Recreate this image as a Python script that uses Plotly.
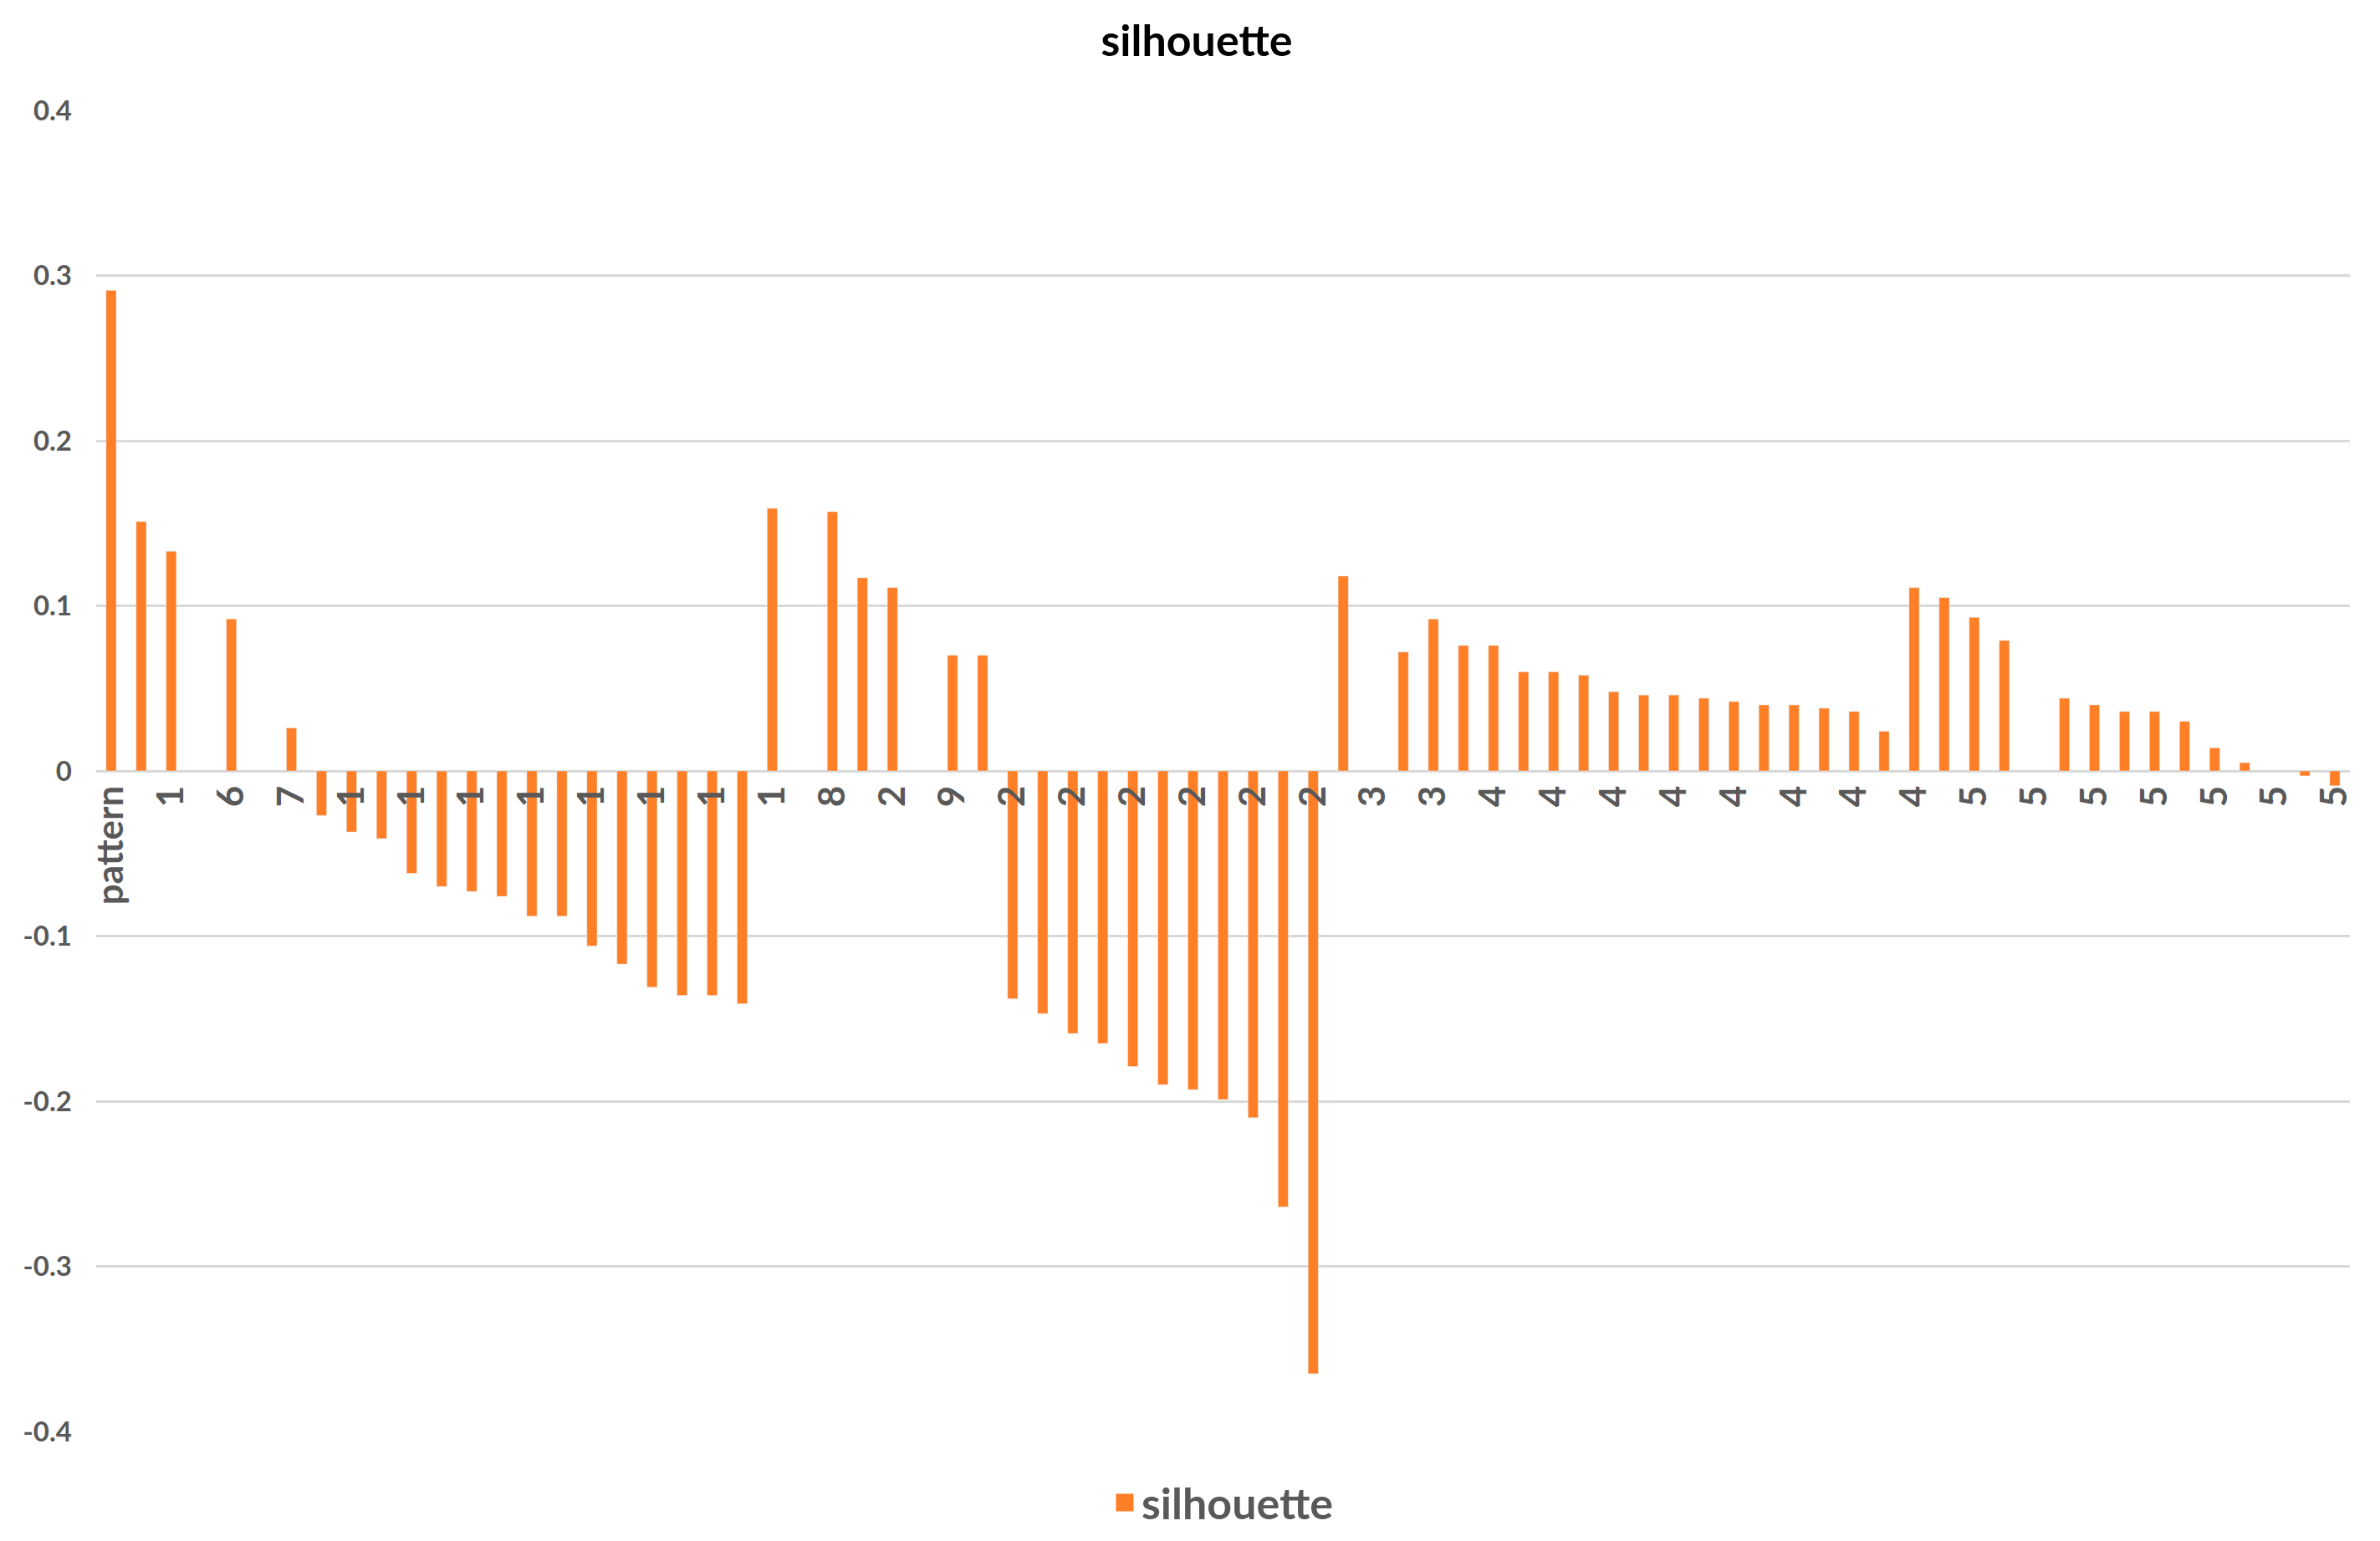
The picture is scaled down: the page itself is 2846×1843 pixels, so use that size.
import plotly.graph_objects as go

# silhouette value per sample (None = no bar drawn)
silhouette = [
    0.291, 0.151, 0.133, None, 0.092, None, 0.026, -0.027, -0.037, -0.041,
    -0.062, -0.070, -0.073, -0.076, -0.088, -0.088, -0.106, -0.117, -0.131, -0.136,
    -0.136, -0.141, 0.159, None, 0.157, 0.117, 0.111, None, 0.070, 0.070,
    -0.138, -0.147, -0.159, -0.165, -0.179, -0.190, -0.193, -0.199, -0.210, -0.264,
    -0.365, 0.118, None, 0.072, 0.092, 0.076, 0.076, 0.060, 0.060, 0.058,
    0.048, 0.046, 0.046, 0.044, 0.042, 0.040, 0.040, 0.038, 0.036, 0.024,
    0.111, 0.105, 0.093, 0.079, None, 0.044, 0.040, 0.036, 0.036, 0.030,
    0.014, 0.005, None, -0.003, -0.009,
]

# only every second category shows its label
x_labels = ["pattern", "1", "6", "7", "1", "1", "1", "1", "1", "1", "1", "1",
            "8", "2", "9", "2", "2", "2", "2", "2", "2", "3", "3",
            "4", "4", "4", "4", "4", "4", "4", "4",
            "5", "5", "5", "5", "5", "5", "5"]

y_ticks = [0.4, 0.3, 0.2, 0.1, 0, -0.1, -0.2, -0.3, -0.4]
y_labels = ["0.4", "0.3", "0.2", "0.1", "0", "-0.1", "-0.2", "-0.3", "-0.4"]

orange = "#FF7F27"
grey_text = "#595959"
font = "Lato"

x = list(range(len(silhouette)))

fig = go.Figure()
fig.add_trace(go.Bar(x=x, y=silhouette, width=0.34, marker_color=orange,
                     name="silhouette", showlegend=False))
# legend entry with a bigger square
fig.add_trace(go.Scatter(x=[None], y=[None], mode="markers", name="silhouette",
                         marker=dict(symbol="square", size=30, color=orange,
                                     line=dict(color=orange, width=5))))

## page body adds an 8px offset, margins compensate for it
fig.update_layout(
    width=2846, height=1843,
    margin=dict(l=107, r=44, t=124, b=139),
    plot_bgcolor="white", paper_bgcolor="white",
    title=dict(text="silhouette", x=0.5, xanchor="center", y=0.978, yanchor="middle",
               font=dict(family=font, size=52, color="black", weight="bold")),
    legend=dict(orientation="h", x=0.5, xanchor="center", y=-0.054, yanchor="middle",
                font=dict(family=font, size=52, color=grey_text, weight="bold"),
                itemsizing="trace"),
    xaxis=dict(range=[-0.5, len(silhouette) - 0.5], anchor="free", position=0.5,
               tickmode="array", tickvals=x[::2], ticktext=x_labels, tickangle=-90,
               tickfont=dict(family=font, size=44, color=grey_text, weight="bold"),
               showgrid=False, showline=False, zeroline=False, ticks="",
               ticklabelstandoff=8, automargin=False),
    yaxis=dict(range=[-0.4, 0.4], tickmode="array", tickvals=y_ticks, ticktext=y_labels,
               tickfont=dict(family=font, size=33, color=grey_text, weight="bold"),
               showgrid=True, gridcolor="#D9D9D9", gridwidth=3,
               zeroline=True, zerolinecolor="#D9D9D9", zerolinewidth=3,
               ticks="", ticklabelstandoff=28, automargin=False),
)

fig.write_html("out.html")
